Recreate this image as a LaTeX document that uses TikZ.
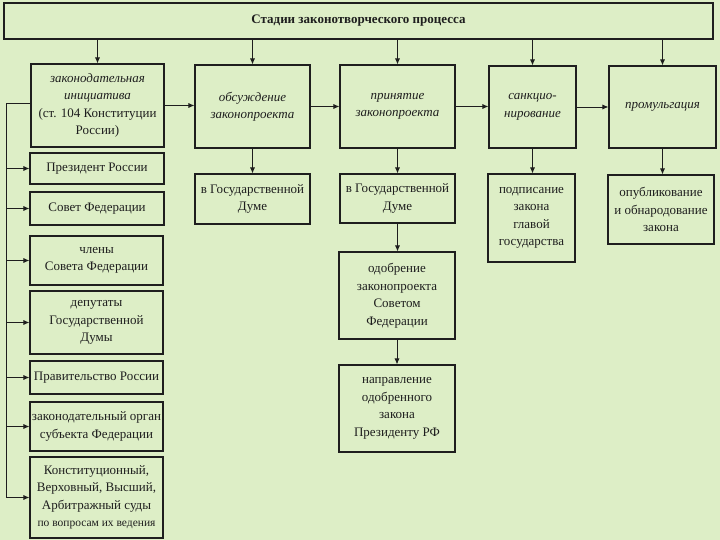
\documentclass[tikz,border=0pt]{standalone}
\usepackage{fontspec}
\setmainfont{Liberation Serif}
\usetikzlibrary{arrows.meta}
\definecolor{bg}{HTML}{DDEEC6}
\definecolor{ink}{HTML}{1E1E1E}
\newcommand\bx[6]{\node[box, minimum width={(#4-#2)*1pt}, minimum height={(#5-#3)*1pt}] (#1) at ({(#2+#4)/2},{(#3+#5)/2}) {#6};}
\begin{document}
\begin{tikzpicture}[x=1pt,y=-1pt,
  box/.style={draw=ink, line width=1.1pt, fill=bg, inner sep=1pt, align=center, text=ink,
    font=\fontsize{13}{17.5}\selectfont},
  arr/.style={draw=ink, line width=0.8pt, -{Latex[length=6pt,width=5pt]}},
  ln/.style={draw=ink, line width=0.8pt}]
\fill[bg] (0,0) rectangle (720,540);
\useasboundingbox (0,0) rectangle (720,540);
% title
\bx{top}{4}{3}{713}{39}{\fontsize{13}{16}\selectfont\bfseries Стадии законотворческого процесса}
% stages
\bx{s1}{31}{64}{164}{147}{\itshape законодательная\\ \itshape инициатива\\ (ст. 104 Конституции\\ России)}
\bx{s2}{195}{65}{310}{148}{\itshape обсуждение\\ \itshape законопроекта}
\bx{s3}{340}{65}{455}{148}{\itshape принятие\\ \itshape законопроекта}
\bx{s4}{489}{66}{576}{148}{\itshape санкцио-\\ \itshape нирование}
\bx{s5}{609}{66}{716}{148}{\itshape промульгация}
% details
\bx{d2}{195}{174}{310}{224}{в Государственной\\ Думе}
\bx{d3}{340}{174}{455}{223}{в Государственной\\ Думе}
\bx{d4}{488}{174}{575}{262}{подписание\\ закона\\ главой\\ государства}
\bx{d5}{608}{175}{714}{244}{опубликование\\ и обнародование\\ закона}
\bx{a3}{339}{252}{455}{339}{одобрение\\ законопроекта\\ Советом\\ Федерации}
\bx{n3}{339}{365}{455}{452}{направление\\ одобренного\\ закона\\ Президенту РФ}
% left column
\bx{L1}{30}{153}{164}{184}{Президент России}
\bx{L2}{30}{192}{164}{225}{Совет Федерации}
\bx{L3}{30}{236}{163}{285}{члены\\ Совета Федерации}
\bx{L4}{30}{291}{163}{354}{депутаты\\ Государственной\\ Думы}
\bx{L5}{30}{361}{163}{394}{Правительство России}
\bx{L6}{30}{402}{163}{451}{законодательный орган\\ субъекта Федерации}
\bx{L7}{30}{457}{163}{538}{Конституционный,\\ Верховный, Высший,\\ Арбитражный суды\\ {\fontsize{11.5}{14}\selectfont по вопросам их ведения}}
% connectors from title
\foreach \s in {s1,s2,s3,s4,s5} \draw[arr] (top.south -| \s.north) -- (\s.north);
% stage chain
\draw[arr] (s1.east) -- (s2.west |- s1.east);
\draw[arr] (s2.east) -- (s3.west |- s2.east);
\draw[arr] (s3.east) -- (s4.west |- s3.east);
\draw[arr] (s4.east) -- (s5.west |- s4.east);
% stage details
\draw[arr] (s2.south) -- (s2.south |- d2.north);
\draw[arr] (s3.south) -- (s3.south |- d3.north);
\draw[arr] (s4.south) -- (s4.south |- d4.north);
\draw[arr] (s5.south) -- (s5.south |- d5.north);
\draw[arr] (d3.south) -- (d3.south |- a3.north);
\draw[arr] (a3.south) -- (a3.south |- n3.north);
% left bus
\coordinate (bus) at (6,103);
\draw[arr] (s1.west |- bus) -- (bus) |- (L7.west);
\foreach \l in {L1,L2,L3,L4,L5,L6} \draw[arr] (bus |- \l.west) -- (\l.west);
\end{tikzpicture}
\end{document}
